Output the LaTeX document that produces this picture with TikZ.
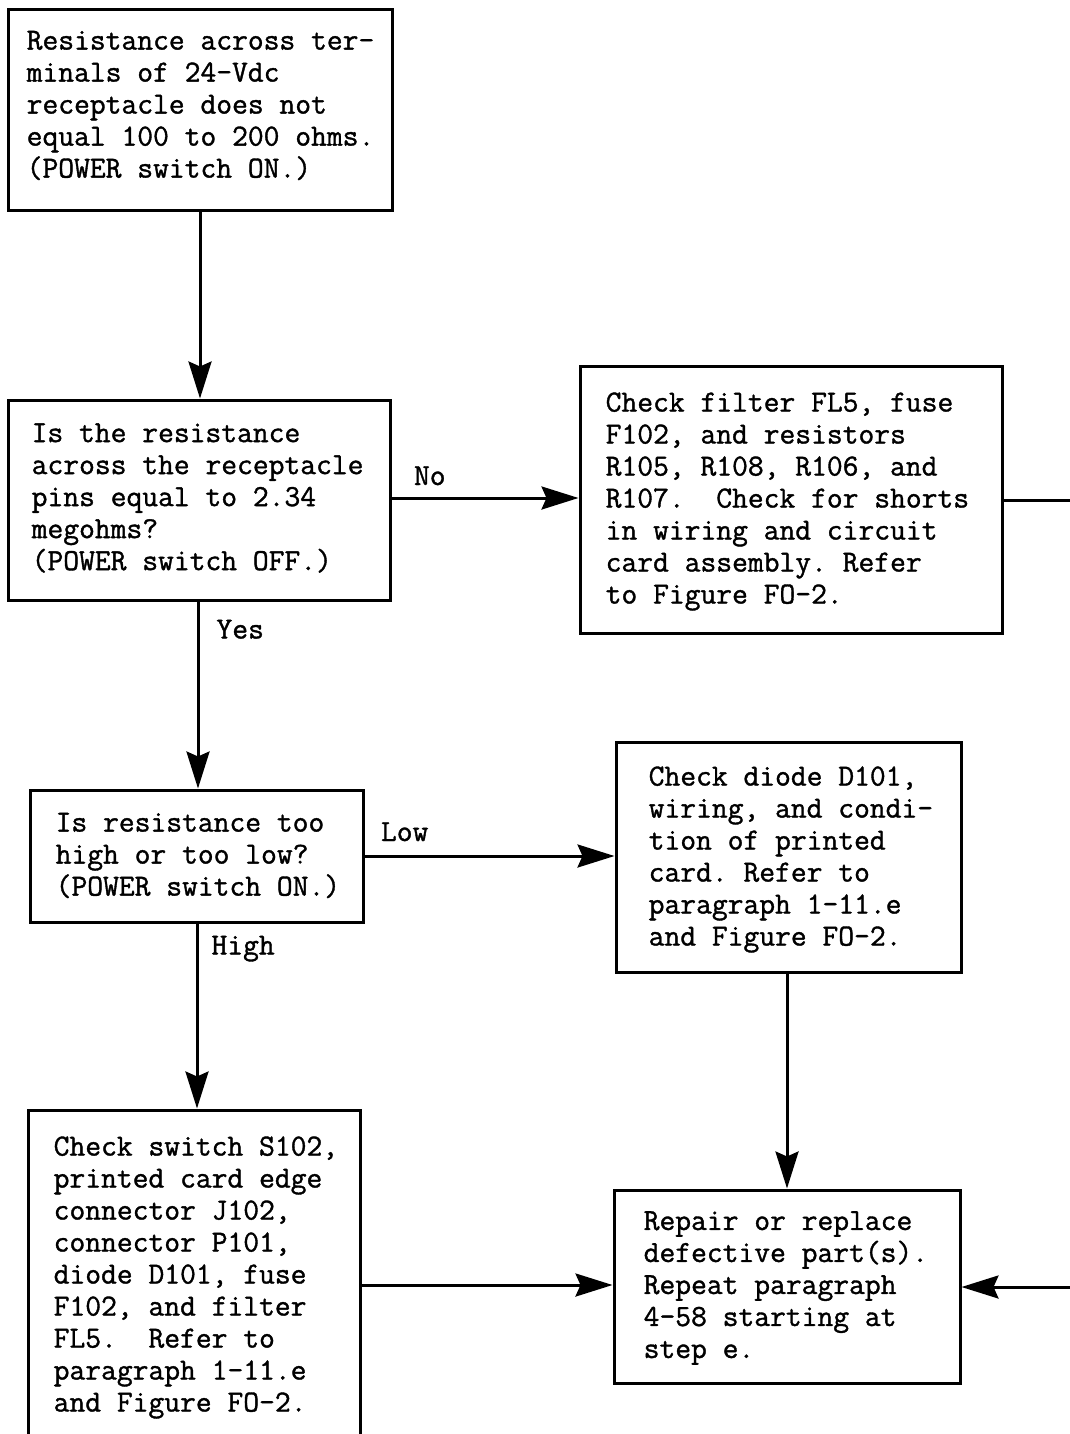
\documentclass[tikz,border=0pt]{standalone}
\usepackage{fontspec}
\newfontfamily\twfont{Latin Modern Mono}[RawFeature={embolden=1.2}]
\usetikzlibrary{arrows.meta}
\newcommand\twsetup{\twfont\fontsize{30}{32}\selectfont
  \setbox0\hbox{x}%
  \edef\twsz{\the\dimexpr 30pt*1035469/\wd0\relax}%
  \fontsize{\twsz}{32}\selectfont\frenchspacing}
\begin{document}
\begin{tikzpicture}[x=1pt,y=-1pt,
  txt/.style={font=\twsetup, align=left, inner sep=0pt},
  box/.style={draw, line width=3pt, rectangle, inner sep=0pt},
  lab/.style={font=\twsetup, inner sep=0pt},
  conn/.style={line width=3pt},
  flow/.style={conn, -{Stealth[length=37pt,width=23pt,inset=5pt]}}
]
\useasboundingbox (0,0) rectangle (1070,1434);
\clip (0,0) rectangle (1070,1434);

\node[box, minimum width=384pt, minimum height=200pt] (A) at (200,110) {};
\node[txt, anchor=west] (At) at ([xshift=20pt,yshift=4.5pt]A.west)
  {Resistance across ter-\\minals of 24-Vdc\\receptacle does not\\equal 100 to 200 ohms.\\(POWER switch ON.)};
\node[box, minimum width=382pt, minimum height=200pt] (B) at (199,500) {};
\node[txt, anchor=west] (Bt) at ([xshift=25pt,yshift=2pt]B.west)
  {Is the resistance\\across the receptacle\\pins equal to 2.34\\megohms?\\(POWER switch OFF.)};
\node[box, minimum width=422pt, minimum height=267pt] (C) at (791,499.5) {};
\node[txt, anchor=west] (Ct) at ([xshift=27pt,yshift=-2pt]C.west)
  {Check filter FL5, fuse\\F102, and resistors\\R105, R108, R106, and\\R107.\ \ Check for shorts\\in wiring and circuit\\card assembly. Refer\\to Figure FO-2.};
\node[box, minimum width=333pt, minimum height=132pt] (D) at (196.5,856) {};
\node[txt, anchor=west] (Dt) at ([xshift=27pt,yshift=0.5pt]D.west)
  {Is resistance too\\high or too low?\\(POWER switch ON.)};
\node[box, minimum width=345pt, minimum height=230pt] (E) at (788.5,857) {};
\node[txt, anchor=west] (Et) at ([xshift=34pt,yshift=-2.5pt]E.west)
  {Check diode D101,\\wiring, and condi-\\tion of printed\\card. Refer to\\paragraph 1-11.e\\and Figure FO-2.};
\node[box, minimum width=346pt, minimum height=193pt] (F) at (787,1286.5) {};
\node[txt, anchor=west] (Ft) at ([xshift=31pt,yshift=-1.5pt]F.west)
  {Repair or replace\\defective part(s).\\Repeat paragraph\\4-58 starting at\\step e.};
\node[box, minimum width=332pt, minimum height=330pt] (G) at (194,1275) {};
\node[txt, anchor=west] (Gt) at ([xshift=27pt,yshift=-2.5pt]G.west)
  {Check switch S102,\\printed card edge\\connector J102,\\connector P101,\\diode D101, fuse\\F102, and filter\\FL5.\ \ Refer to\\paragraph 1-11.e\\and Figure FO-2.};

\coordinate (rt) at (1085,500);
\coordinate (rb) at (1085,1287);

\draw[flow] (A.south) -- (A.south |- B.north);
\draw[flow] (B.east |- 0,498) -- node[lab, at start, anchor=base west, xshift=21pt, yshift=13pt] {No} (C.west |- 0,498);
\draw[flow] (B.south -| 198,0) -- node[lab, at start, anchor=base west, xshift=17pt, yshift=-37pt] {Yes} (D.north -| 198,0);
\draw[flow] (D.east) -- node[lab, at start, anchor=base west, xshift=15pt, yshift=15pt] {Low} (E.west |- D.east);
\draw[flow] (D.south -| 197,0) -- node[lab, at start, anchor=base west, xshift=13pt, yshift=-31pt] {High} (G.north -| 197,0);
\draw[flow] (E.south -| 787,0) -- (F.north -| 787,0);
\draw[flow] (G.east |- 0,1285) -- (F.west |- 0,1285);
\draw[conn] (C.east |- rt) -- (rt) -- (rb);
\draw[flow] (rb) -- (F.east |- rb);
\end{tikzpicture}
\end{document}
